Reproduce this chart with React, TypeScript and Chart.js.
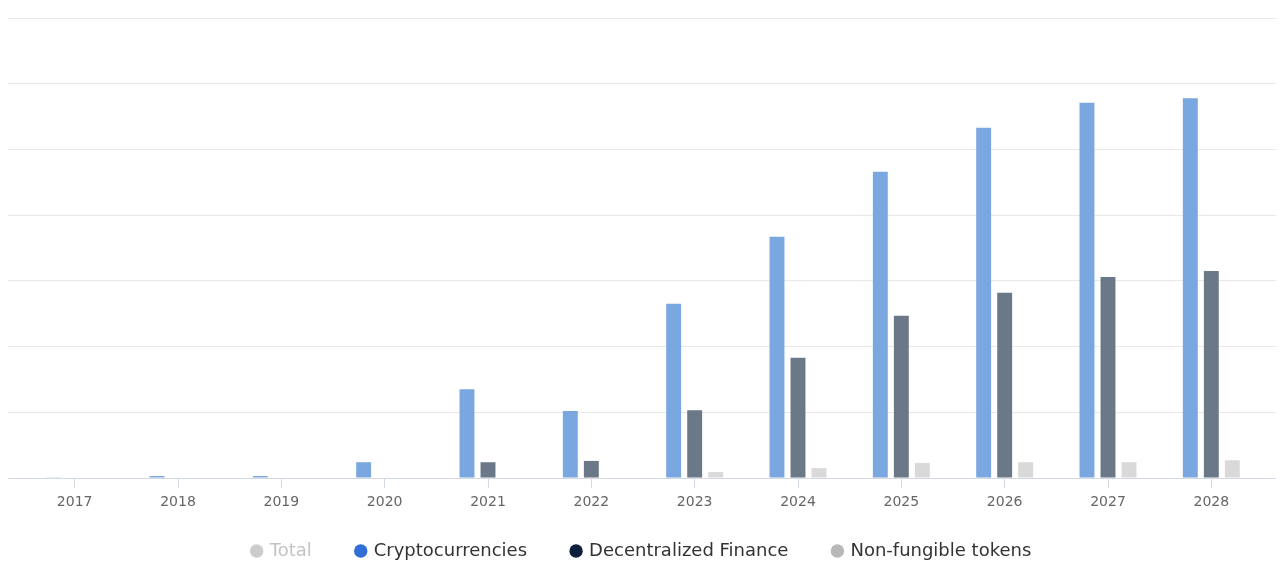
import React, { useEffect, useRef } from "react";
import { Chart, registerables } from "chart.js";

Chart.register(...registerables);

// Years on the category axis
const years = ["2017", "2018", "2019", "2020", "2021", "2022", "2023", "2024", "2025", "2026", "2027", "2028"];

// Segment values per year
const cryptocurrencies = [0.01, 0.03, 0.03, 0.24, 1.35, 1.02, 2.65, 3.67, 4.66, 5.33, 5.71, 5.78];
const decentralizedFinance = [0, 0, 0, 0, 0.24, 0.26, 1.03, 1.83, 2.47, 2.82, 3.06, 3.15];
const nonFungibleTokens = [0, 0, 0, 0, 0, 0, 0.09, 0.15, 0.23, 0.24, 0.24, 0.27];

// Value axis range (grid every 1 unit)
const yMax = 7;
const yStep = 1;

// Legend entries: the "Total" entry is shown switched off
const legendNames = ["Total", "Cryptocurrencies", "Decentralized Finance", "Non-fungible tokens"];
const legendDots = ["#cccccc", "#2f6fd6", "#0e1f3d", "#b8b8b8"];
const legendText = ["#c4c4c4", "#333333", "#333333", "#333333"];

const FONT = "'DejaVu Sans', sans-serif";

export default function App() {
  const canvasRef = useRef<HTMLCanvasElement | null>(null);

  useEffect(() => {
    if (!canvasRef.current) return;
    const gridColor = (ctx: any) => (ctx.tick && ctx.tick.value === 0 ? "#d3d9e2" : "#e8e8e8");

    const chart = new Chart(canvasRef.current, {
      type: "bar",
      data: {
        labels: years,
        datasets: [
          { label: legendNames[1], data: cryptocurrencies, backgroundColor: "#7ba7e1" },
          { label: legendNames[2], data: decentralizedFinance, backgroundColor: "#6b7888" },
          { label: legendNames[3], data: nonFungibleTokens, backgroundColor: "#d9d9d9" },
        ],
      },
      options: {
        animation: false,
        responsive: true,
        maintainAspectRatio: false,
        datasets: {
          bar: { categoryPercentage: 0.61, barPercentage: 0.71 },
        },
        layout: { padding: { top: 18, left: 8, right: 8, bottom: -7 } },
        scales: {
          x: {
            grid: {
              display: true,
              drawOnChartArea: false,
              drawTicks: true,
              tickLength: 10,
              offset: false,
              color: "#d3d9e2",
            },
            border: { display: false },
            ticks: {
              color: "#666666",
              font: { family: FONT, size: 14 },
              padding: 6,
              maxRotation: 0,
              autoSkip: false,
            },
          },
          y: {
            min: 0,
            max: yMax,
            ticks: { display: false, stepSize: yStep },
            grid: { color: gridColor, drawTicks: true, tickLength: 15 },
            border: { display: false },
          },
          yRight: {
            position: "right",
            min: 0,
            max: yMax,
            ticks: { display: false, stepSize: yStep },
            grid: { color: gridColor, drawOnChartArea: false, drawTicks: true, tickLength: 13 },
            border: { display: false },
          },
        },
        plugins: {
          title: { display: false },
          tooltip: { enabled: false },
          legend: {
            display: true,
            position: "bottom",
            onClick: () => {},
            // empty title block pulls the legend row up under the axis labels
            title: { display: true, text: "", font: { size: 10 }, padding: { top: -31.8, bottom: 0 } },
            labels: {
              usePointStyle: true,
              pointStyle: "circle",
              boxWidth: 8,
              boxHeight: 9.5,
              padding: 45,
              font: { family: FONT, size: 18 },
              generateLabels: () =>
                legendNames.map((name, i) => ({
                  text: name,
                  fillStyle: legendDots[i],
                  strokeStyle: legendDots[i],
                  fontColor: legendText[i],
                  lineWidth: 0,
                  hidden: false,
                  pointStyle: "circle",
                  datasetIndex: i - 1,
                })),
            },
          },
        },
      },
    });

    return () => chart.destroy();
  }, []);

  return (
    <div style={{ position: "absolute", left: 0, top: 0, width: "1284px", height: "563px" }}>
      <canvas ref={canvasRef} />
    </div>
  );
}
